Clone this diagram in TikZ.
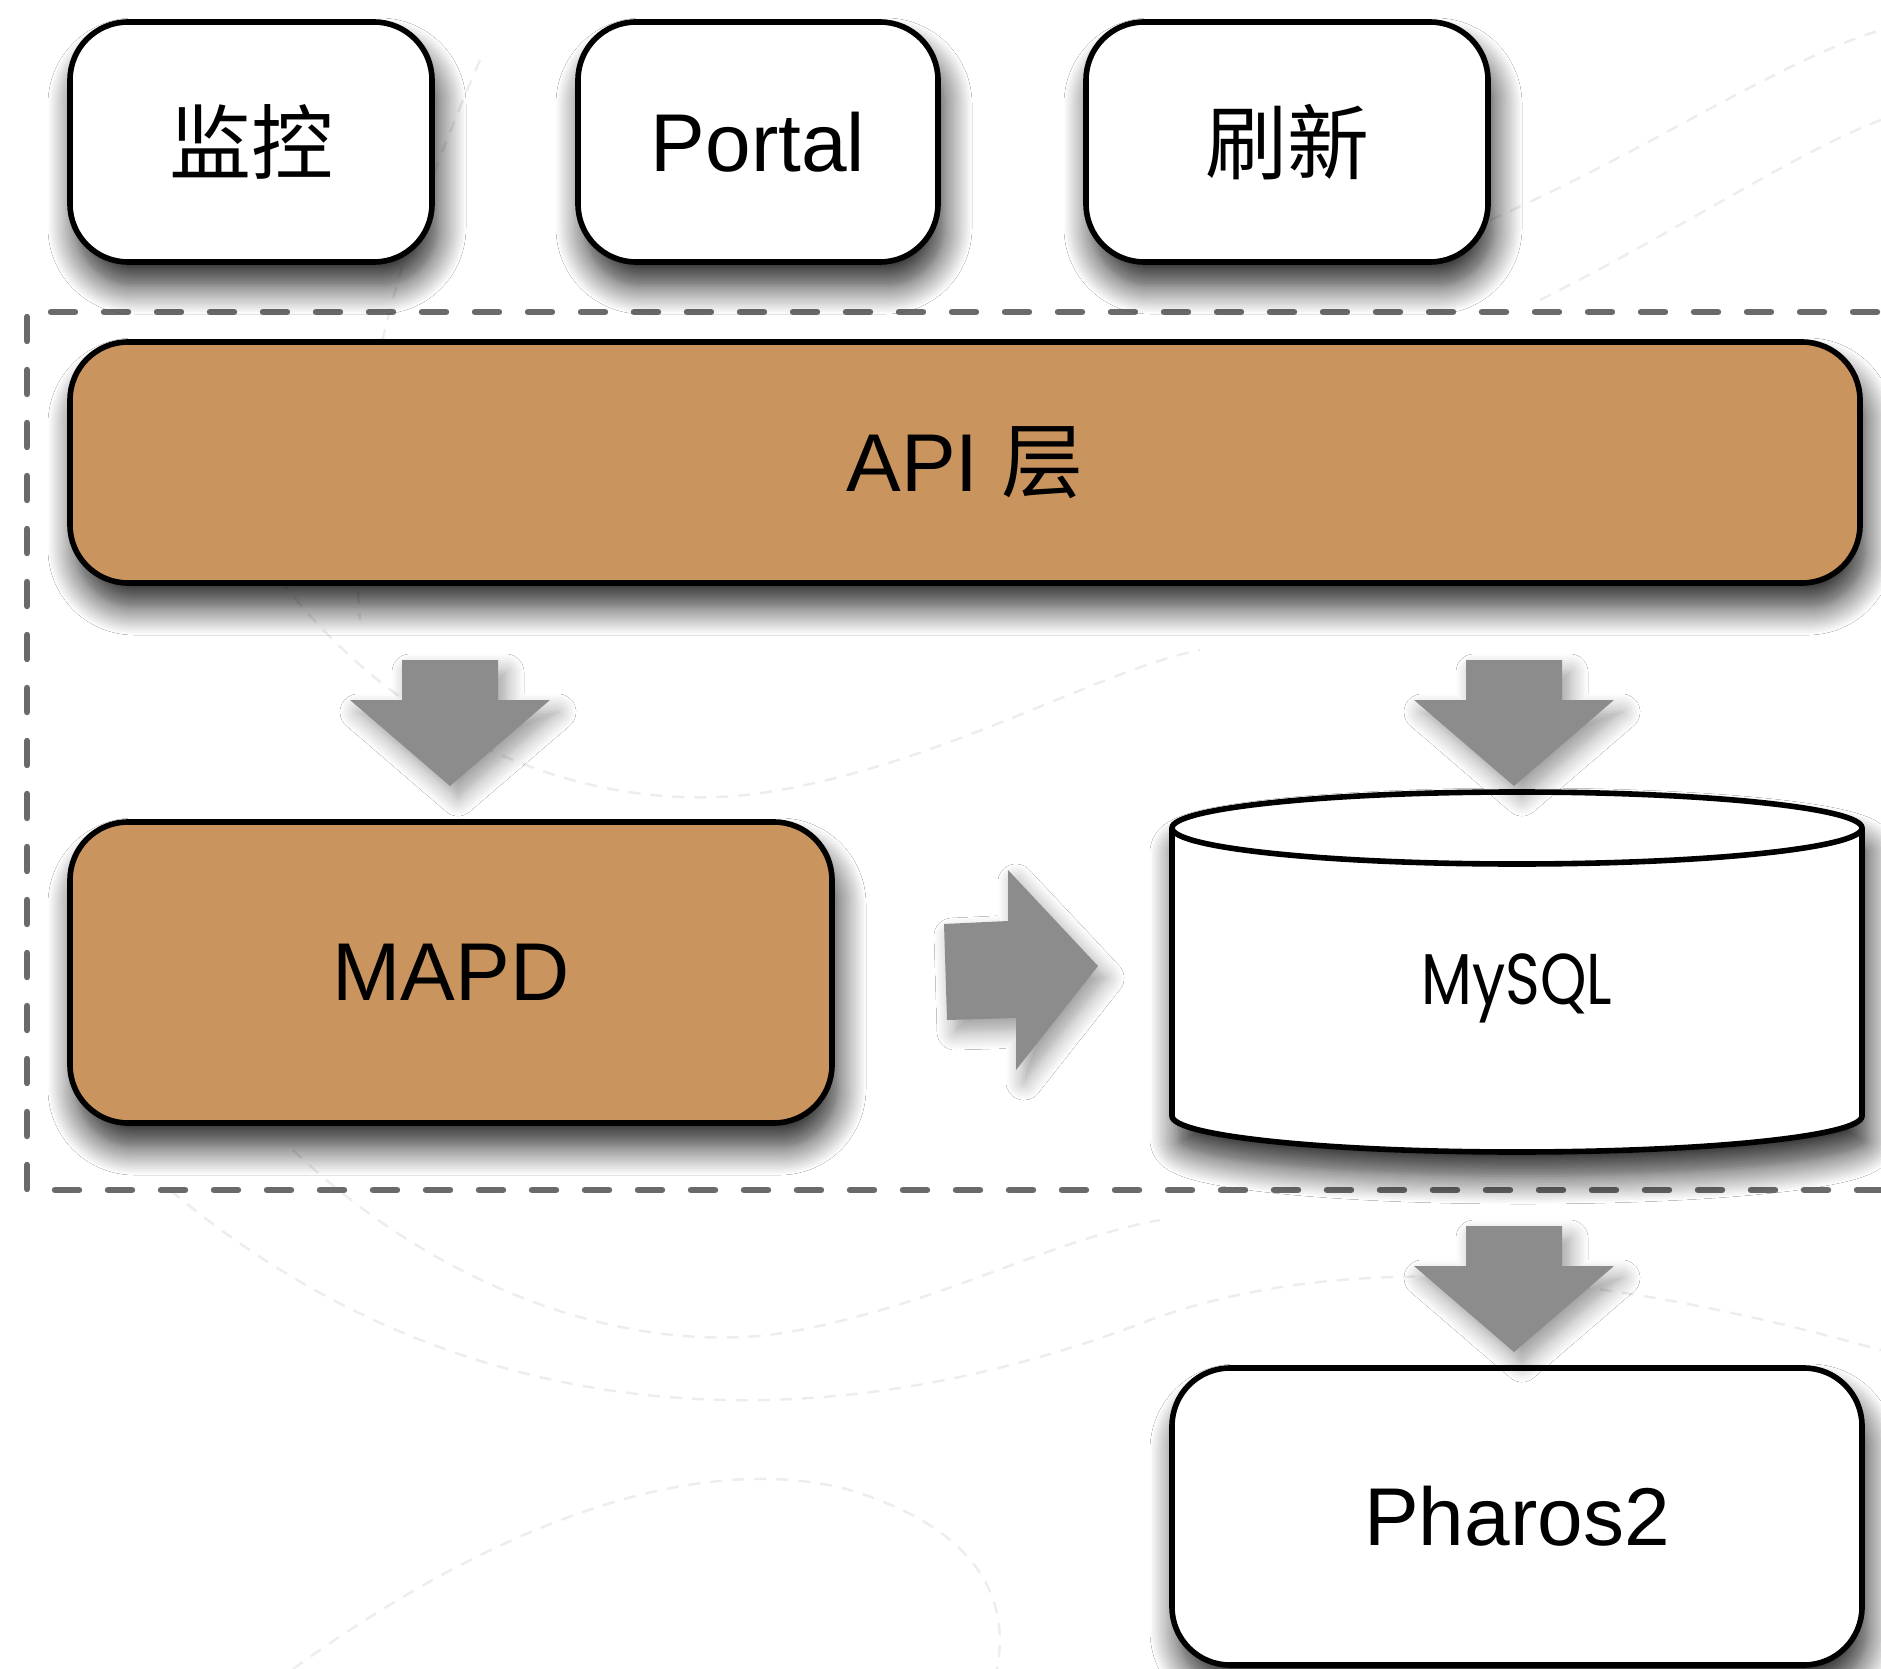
\documentclass[tikz,border=0pt]{standalone}
\usepackage{fontspec}
\setmainfont{Liberation Sans}
\newfontfamily\cjk{Noto Sans CJK SC}
\newfontfamily\geo{Poppins}
\usetikzlibrary{shadows.blur}
\definecolor{apicol}{RGB}{201,148,94}
\definecolor{arrowgray}{RGB}{140,140,140}
\definecolor{dashgray}{RGB}{106,106,106}
\begin{document}
\begin{tikzpicture}[x=0.5pt,y=-0.5pt,
  shadowed/.style={blur shadow={shadow xshift=3pt, shadow yshift=-12pt, shadow blur radius=14pt, shadow blur steps=14, shadow opacity=85}},
  box/.style={draw, line width=2.8pt, rounded corners=29pt, fill=white, shadowed,
    font=\fontsize{41}{41}\selectfont, inner sep=0pt},
  tan/.style={box, fill=apicol},
  bigarrow/.style={fill=arrowgray, blur shadow={shadow xshift=4pt, shadow yshift=-6pt, shadow blur radius=9pt, shadow blur steps=10, shadow opacity=40}},
  frame/.style={draw=dashgray, line width=3.2pt, line cap=round, dash pattern=on 12pt off 14.5pt},
  bgcurve/.style={draw=black!7, line width=1.2pt, dash pattern=on 6pt off 5pt}]
\clip (0,0) rectangle (1881,1669);
\fill[white] (0,0) rectangle (1881,1669);
% faint background curves
\path[bgcurve] (170,1190) .. controls (420,1400) and (760,1470) .. (1150,1320) .. controls (1400,1230) and (1700,1300) .. (1881,1350);
\path[bgcurve] (293,1150) .. controls (450,1300) and (650,1360) .. (800,1330) .. controls (950,1300) and (1050,1240) .. (1160,1220);
\path[bgcurve] (293,1669) .. controls (500,1520) and (700,1450) .. (850,1490) .. controls (980,1530) and (1010,1600) .. (997,1669);
\path[bgcurve] (1490,220) .. controls (1650,150) and (1780,60) .. (1881,30);
\path[bgcurve] (1540,300) .. controls (1680,230) and (1800,150) .. (1881,120);
\path[bgcurve] (280,580) .. controls (420,760) and (620,820) .. (780,790) .. controls (950,760) and (1100,670) .. (1200,650);
\path[bgcurve] (480,60) .. controls (420,200) and (340,400) .. (360,620);
% dashed frame
\draw[frame] (1930,312) -- (27,312) -- (27,1190) -- (1930,1190);
% top boxes
\node[box, minimum width=181pt, minimum height=120pt] (mon) at (251,142) {\cjk 监控};
\node[box, minimum width=180pt, minimum height=120pt] (portal) at (758,142) {Portal};
\node[box, minimum width=201pt, minimum height=120pt] (refresh) at (1287,142) {\cjk 刷新};
% API layer
\node[tan, minimum width=895pt, minimum height=120.5pt] (api) at (965,462.5) {API {\cjk 层}};
% MAPD
\node[tan, minimum width=381pt, minimum height=150.5pt] (mapd) at (451,972.5) {MAPD};
% MySQL cylinder
\path[fill=white, shadowed] (1172,828) -- (1172,1116)
  .. controls (1172,1136) and (1326.5,1152) .. (1517,1152)
  .. controls (1707.5,1152) and (1862,1136) .. (1862,1116) -- (1862,828)
  .. controls (1862,808) and (1707.5,792) .. (1517,792)
  .. controls (1326.5,792) and (1172,808) .. (1172,828) -- cycle;
\draw[line width=2.8pt, line join=round] (1172,828) -- (1172,1116)
  .. controls (1172,1136) and (1326.5,1152) .. (1517,1152)
  .. controls (1707.5,1152) and (1862,1136) .. (1862,1116) -- (1862,828);
\draw[line width=2.8pt] (1517,828) ellipse [x radius=345, y radius=36];
\node[font=\geo\fontsize{36}{36}\selectfont, xscale=0.82] (mysql) at (1517,988) {MySQL};
% Pharos2
\node[box, minimum width=345pt, minimum height=148.5pt] (pharos) at (1517,1516.5) {Pharos2};
% block arrows
\path[bigarrow] (402,660) -- (498,660) -- (498,700) -- (550,700) -- (450,786) -- (350,700) -- (402,700) -- cycle;
\path[bigarrow] (1466,660) -- (1562,660) -- (1562,700) -- (1614,700) -- (1514,786) -- (1414,700) -- (1466,700) -- cycle;
\path[bigarrow] (1466,1226) -- (1562,1226) -- (1562,1266) -- (1614,1266) -- (1514,1352) -- (1414,1266) -- (1466,1266) -- cycle;
\path[bigarrow] (944,924) -- (1008,921) -- (1008,870) -- (1098,966) -- (1016,1070) -- (1016,1018) -- (947,1020) -- cycle;
\end{tikzpicture}
\end{document}
